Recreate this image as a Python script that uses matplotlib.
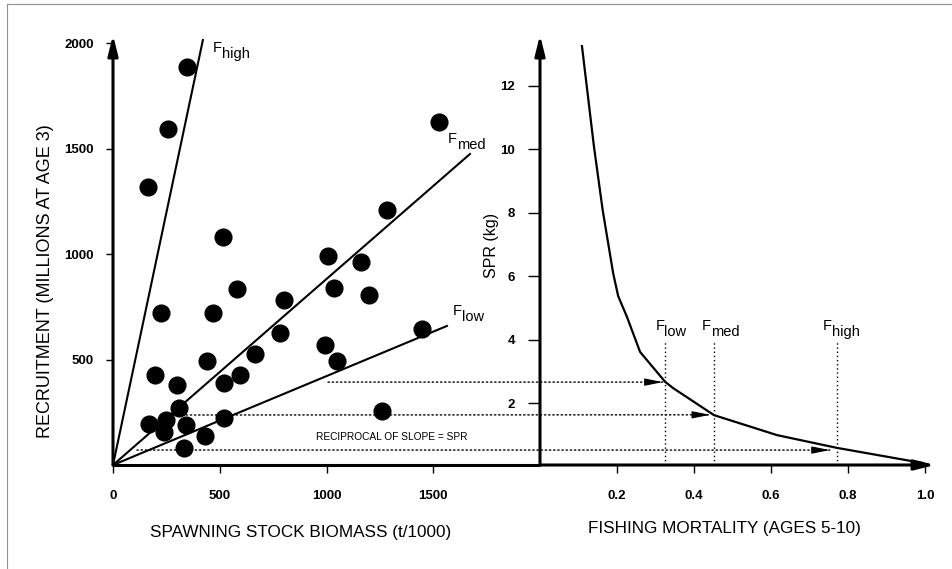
import matplotlib
matplotlib.use("Agg")
import matplotlib.pyplot as plt
from matplotlib.patches import ConnectionPatch
from matplotlib.lines import Line2D

plt.rcParams['font.family'] = ['Liberation Sans', 'DejaVu Sans']

# stock-recruitment points (t/1000, millions at age 3)
ssb = [347, 258, 164, 515, 581, 801, 225, 468, 1007, 1162, 1283, 1527, 1035,
       1199, 1447, 782, 993, 1049, 665, 441, 197, 300, 520, 595, 309, 169,
       248, 239, 342, 431, 520, 332, 1260]
rec = [1887, 1594, 1316, 1080, 835, 783, 722, 722, 991, 962, 1208, 1627, 840,
       807, 646, 627, 571, 491, 528, 495, 425, 377, 387, 425, 269, 193,
       212, 156, 189, 137, 222, 80, 255]

# replacement lines through origin
line_names = ['high', 'med', 'low']
line_ssb_end = [421, 1672, 1564]
line_rec_end = [2014, 1474, 659]

# SPR curve
f_curve = [0.109, 0.14, 0.163, 0.19, 0.203, 0.226, 0.26, 0.325, 0.346, 0.452, 0.616, 0.771, 0.995]
spr_curve = [13.25, 10.1, 8.07, 6.1, 5.38, 4.72, 3.62, 2.68, 2.48, 1.63, 1.0, 0.6, 0.12]

# reference points
f_ref = [0.325, 0.452, 0.771]          # low, med, high
f_arrow_tip = [0.319, 0.442, 0.753]
spr_ref = [2.67, 1.64, 0.53]
rec_ref = [393, 237, 71]
ssb_start = [1007, 323, 112]

fig = plt.figure(figsize=(9.53, 5.69), dpi=100)
W, H = 953.0, 569.0

ax1 = fig.add_axes([113 / W, (H - 465) / H, 427 / W, 430 / H])
ax2 = fig.add_axes([540 / W, (H - 465) / H, 395 / W, 430 / H])

for ax in (ax1, ax2):
    for s in ax.spines.values():
        s.set_visible(False)
    ax.patch.set_visible(False)

ax1.set_xlim(0, 2000)
ax1.set_ylim(0, 2038)
ax2.set_xlim(0, 1.026)
ax2.set_ylim(0.06, 13.6)

arrow = dict(arrowstyle='-|>,head_length=1.2,head_width=0.3', lw=2.2, color='k',
             shrinkA=0, shrinkB=0)
ax1.annotate('', xy=(0, 1), xytext=(0, 0), xycoords='axes fraction', arrowprops=arrow,
             annotation_clip=False)
ax1.plot([0, 1], [0, 0], transform=ax1.transAxes, color='k', lw=2.2, clip_on=False,
         solid_capstyle='butt')
ax2.annotate('', xy=(0, 1), xytext=(0, 0), xycoords='axes fraction', arrowprops=arrow,
             annotation_clip=False)
ax2.annotate('', xy=(1, 0), xytext=(0, 0), xycoords='axes fraction', arrowprops=arrow,
             annotation_clip=False)

# ticks
ax1.set_xticks([0, 500, 1000, 1500])
ax1.set_yticks([500, 1000, 1500, 2000])
ax2.set_xticks([0.2, 0.4, 0.6, 0.8, 1.0])
ax2.set_xticklabels(['0.2', '0.4', '0.6', '0.8', '1.0'])
ax2.set_yticks([2, 4, 6, 8, 10, 12])
ax1.tick_params(axis='x', length=6, width=1, pad=12, labelsize=9.5)
ax1.tick_params(axis='y', length=5, width=1, pad=9, labelsize=9.5)
ax2.tick_params(axis='x', length=6, width=1, pad=12, labelsize=9.5)
ax2.tick_params(axis='y', length=9, width=1, pad=9, labelsize=9.5)
for lab in ax1.get_xticklabels() + ax1.get_yticklabels() + ax2.get_xticklabels() + ax2.get_yticklabels():
    lab.set_fontweight('bold')

# scatter + lines
ax1.scatter(ssb, rec, s=145, color='k', zorder=3, clip_on=False)
for xe, ye in zip(line_ssb_end, line_rec_end):
    ax1.plot([0, xe], [0, ye], color='k', lw=1.5, clip_on=False)


def flabel(ax, x, y, sub, size=10.5):
    ax.text(x, y, 'F', fontsize=size, ha='left', va='baseline')
    ax.annotate(sub, xy=(x, y), xytext=(6.2, -4), textcoords='offset points',
                fontsize=size, ha='left', va='baseline', annotation_clip=False)


flabel(ax1, 468, 1957, 'high')
flabel(ax1, 1569, 1526, 'med')
flabel(ax1, 1592, 711, 'low')

ax1.text(1307, 133, 'RECIPROCAL OF SLOPE = SPR', fontsize=7.3, ha='center', va='center')

# SPR curve
ax2.plot(f_curve, spr_curve, color='k', lw=1.6, clip_on=False)
for f in f_ref:
    ax2.plot([f, f], [0.06, 3.93], color='k', lw=1, linestyle=(0, (1, 2)))
flabel(ax2, 0.301, 4.31, 'low')
flabel(ax2, 0.421, 4.31, 'med')
flabel(ax2, 0.735, 4.31, 'high')

# dotted arrows from left panel into right panel
for x0, r0, ft, s0 in zip(ssb_start, rec_ref, f_arrow_tip, spr_ref):
    con = ConnectionPatch(xyA=(x0, r0), coordsA=ax1.transData,
                          xyB=(ft, s0), coordsB=ax2.transData,
                          color='k', lw=1, linestyle=(0, (1, 2)))
    fig.add_artist(con)
    ax2.annotate('', xy=(ft, s0), xytext=(ft - 0.04, s0),
                 arrowprops=dict(arrowstyle='-|>,head_length=1.1,head_width=0.22',
                                 lw=0.8, color='k', shrinkA=0, shrinkB=0))

# axis titles
fig.text(301 / W, 1 - 533 / H, 'SPAWNING STOCK BIOMASS (t/1000)', fontsize=12.3,
         ha='center', va='center')
fig.text(724 / W, 1 - 528 / H, 'FISHING MORTALITY (AGES 5-10)', fontsize=12.3,
         ha='center', va='center')
fig.text(46 / W, 1 - 281 / H, 'RECRUITMENT (MILLIONS AT AGE 3)', fontsize=13,
         ha='center', va='center', rotation=90)
fig.text(492 / W, 1 - 245 / H, 'SPR (kg)', fontsize=11.5, ha='center', va='center',
         rotation=90)

# scanned page frame (top and left edges)
fig.add_artist(Line2D([7 / W, 1], [1 - 4 / H, 1 - 4 / H], color='#909090', lw=0.8))
fig.add_artist(Line2D([7 / W, 7 / W], [0, 1 - 4 / H], color='#909090', lw=0.8))

fig.savefig('out.png', dpi=100)
